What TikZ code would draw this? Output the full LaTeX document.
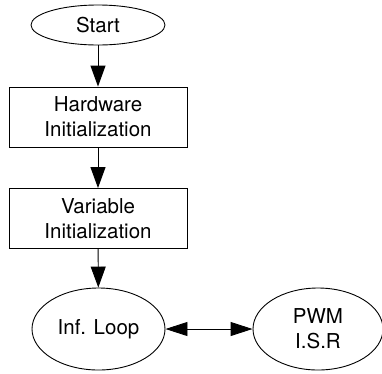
\documentclass[tikz,border=0pt]{standalone}
\usepackage{fontspec}
\setmainfont{TeX Gyre Heros}
\usetikzlibrary{arrows.meta,shapes.geometric}
\begin{document}
\begin{tikzpicture}[x=1pt,y=-1pt,
  every node/.style={font=\fontsize{20.5}{25}\selectfont, align=center, inner sep=0pt, line width=0.9pt},
  procbox/.style={draw, rectangle, minimum width=178pt, minimum height=60pt},
  oval/.style={draw, ellipse, minimum width=133pt, minimum height=82pt},
  conn/.style={line width=0.9pt, -{Triangle[length=21pt,width=15pt]}},
  biconn/.style={line width=0.9pt, {Triangle[length=22pt,width=14pt]}-{Triangle[length=22pt,width=14pt]}}]
\useasboundingbox (0,0) rectangle (382,373);
\node[draw, ellipse, minimum width=134pt, minimum height=40pt] (start) at (98,25) {Start};
\node[procbox] (hw) at (98,117) {Hardware\\Initialization};
\node[procbox] (var) at (98,218.5) {Variable\\Initialization};
\node[oval] (inf) at (98.5,329) {Inf. Loop};
\node[oval, minimum width=130pt] (pwm) at (318,329) {PWM\\I.S.R};
\draw[conn] (start) -- (hw);
\draw[conn] (hw) -- (var);
\draw[conn] (var) -- (inf);
\draw[biconn] (inf) -- (pwm);
\end{tikzpicture}
\end{document}
